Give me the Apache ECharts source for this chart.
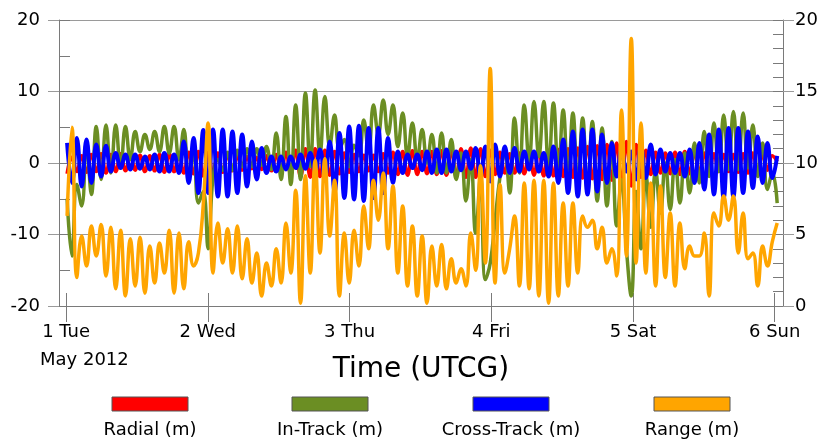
<!DOCTYPE html>
<html>
<head>
<meta charset="utf-8">
<script src="https://cdn.jsdelivr.net/npm/echarts@6/dist/echarts.min.js"></script>
<style>
html,body{margin:0;padding:0;background:#fff;}
#chart{width:826px;height:442px;}
</style>
</head>
<body>
<div id="chart"></div>
<script>
// Sample times: hours after 1 May 2012 00:00 UTCG (start + index * step)
const startHour = 0.17;
const stepHour = 0.8236;

const dayTickHours = [0, 24, 48, 72, 96, 120];
const dayTickLabels = ['1 Tue', '2 Wed', '3 Thu', '4 Fri', '5 Sat', '6 Sun'];
const leftTicks = [-20, -10, 0, 10, 20];
const rightTicks = [0, 5, 10, 15, 20];

const seriesNames = ['Radial (m)', 'In-Track (m)', 'Cross-Track (m)', 'Range (m)'];
const seriesColors = ['#ff0000', '#6b8e23', '#0000ff', '#ffa500'];

const radial = [
-1.5,0.8,-1.2,1.0,-1.3,1.2,-1.2,1.3,-1.4,1.2,
-1.2,1.3,-1.1,1.2,-1.0,1.1,-1.2,1.0,-1.1,1.2,
-1.3,1.3,-1.2,1.3,-1.4,1.5,-1.5,1.6,-1.8,1.5,
-1.6,1.4,-1.3,1.2,-1.1,1.0,-1.0,0.9,-0.8,0.8,
-0.9,1.0,-1.1,1.2,-1.3,1.5,-1.6,1.8,-1.9,2.0,
-2.0,2.0,-1.9,1.8,-1.7,1.6,-1.5,1.4,-1.3,1.2,
-1.2,1.1,-1.1,1.1,-1.2,1.3,-1.4,1.5,-1.6,1.6,
-1.7,1.7,-1.6,1.6,-1.5,1.6,-1.6,1.7,-1.7,1.8,
-1.9,2.0,-2.0,2.1,-2.0,2.0,-1.9,1.8,-1.6,1.5,
-1.4,1.3,-1.4,1.4,-1.5,1.6,-1.7,1.8,-1.8,1.8,
-1.8,1.9,-1.9,2.0,-2.0,2.1,-2.1,2.3,-2.2,2.4,
-2.3,2.6,-2.4,2.8,-2.6,3.0,-3.2,2.6,-2.0,1.8,
-1.6,1.5,-1.4,1.4,-1.5,1.5,-1.6,1.6,-1.5,1.5,
-1.4,1.4,-1.3,1.3,-1.2,1.2,-1.2,1.2,-1.3,1.3,
-1.4,1.4,-1.3,1.2,-1.0,1.0,0.2
];

const inTrack = [
-5.0,-13.0,-3.0,-6.0,3.0,-4.4,5.1,-2.3,5.3,-1.4,
5.3,-0.7,5.1,0.5,4.4,1.6,4.0,1.9,4.4,1.6,
5.1,1.4,5.1,0.5,4.7,-1.9,1.5,-5.6,-4.0,-12.0,
-2.0,0.5,-1.0,1.5,-1.0,1.8,-0.5,2.0,-0.5,2.0,
-0.3,2.3,-0.9,4.2,-2.3,6.5,-3.0,8.1,-2.3,9.8,
-0.5,10.2,1.2,9.3,2.3,6.7,1.9,3.3,-0.5,2.5,
1.0,6.0,1.4,8.1,4.0,8.8,4.0,8.1,2.3,7.0,
0.9,5.6,0.5,4.7,0.0,4.0,-1.4,4.2,-1.4,3.3,
-2.3,1.4,-5.3,0.5,-9.8,-2.0,-16.3,-14.0,-8.0,-2.0,
1.5,-4.2,6.3,-1.4,8.1,0.2,8.6,0.9,8.6,-0.5,
8.4,-1.4,7.4,-2.3,7.0,-3.3,6.3,-4.2,5.8,-5.3,
4.9,-6.0,3.0,-8.8,-2.3,-12.0,-18.6,-4.0,-12.0,-1.5,
-9.0,-1.0,-7.0,0.0,-6.5,0.5,-5.6,1.4,-4.2,2.8,
-2.8,4.4,-1.9,5.6,-1.2,6.7,-0.9,7.2,-0.9,7.0,
-0.7,5.3,-1.9,2.8,-3.7,-1.4,-5.6
];

const crossTrack = [
2.8,-2.8,3.5,-3.3,3.3,-2.8,2.6,-1.9,2.4,-1.2,
1.4,-0.7,1.2,-0.9,1.2,-0.8,0.9,-0.9,1.2,-1.2,
1.4,-1.2,1.2,-1.4,3.0,-2.8,3.5,-4.2,4.6,-4.2,
4.7,-4.7,4.7,-4.7,4.4,-4.2,4.0,-3.3,3.0,-2.3,
2.1,-1.4,0.9,-1.2,0.9,-0.9,0.9,-0.7,1.2,-0.8,
1.4,-1.2,1.9,-2.1,3.0,-4.0,4.2,-4.9,5.1,-5.1,
5.2,-5.3,4.9,-4.9,4.9,-4.2,3.5,-2.8,1.6,-1.4,
1.2,-0.7,1.2,-1.0,1.6,-1.4,1.9,-1.4,1.9,-1.2,
1.6,-1.0,1.6,-0.8,2.1,-1.9,2.3,-2.6,2.6,-1.9,
2.3,-1.4,2.1,-1.2,1.6,-0.9,1.6,-1.2,1.4,-1.9,
2.3,-2.8,3.3,-4.2,4.4,-4.7,4.7,-4.4,4.7,-4.0,
4.0,-2.8,2.8,-1.9,1.9,-1.2,1.6,-2.3,2.3,-2.1,
2.6,-1.6,1.9,-1.2,1.4,-1.4,1.4,-1.9,1.9,-2.8,
2.8,-3.7,4.0,-4.4,4.7,-4.9,4.9,-4.7,4.9,-4.2,
4.4,-3.5,3.7,-2.8,2.8,-2.1,1.0
];

const range = [
6.3,12.5,2.0,4.9,2.8,5.6,3.5,5.7,2.1,5.5,
1.2,5.3,0.7,4.7,1.4,4.8,0.9,4.2,1.6,4.4,
2.3,5.3,0.9,5.1,1.2,4.5,2.8,3.7,7.1,12.8,
2.3,5.8,3.0,5.4,2.3,5.6,1.9,4.7,1.6,3.7,
0.7,3.0,1.4,4.0,1.6,5.8,2.3,8.1,0.2,9.1,
2.3,10.2,3.7,10.3,4.9,8.8,0.7,5.1,1.6,5.3,
2.8,7.0,4.0,8.8,6.0,9.3,4.0,8.4,2.3,7.0,
1.4,5.6,0.7,4.9,0.2,4.2,1.4,4.3,1.2,3.3,
1.6,2.6,1.4,5.1,2.5,9.8,3.0,16.6,1.6,8.5,
2.3,4.0,6.3,1.4,8.6,1.2,8.8,0.7,8.8,0.2,
8.6,0.7,7.2,1.4,7.2,2.3,6.3,5.5,6.0,4.0,
5.5,3.0,4.0,2.1,13.7,3.5,18.7,3.0,12.8,2.3,
8.6,1.4,8.4,2.0,6.5,1.4,5.8,2.6,4.2,3.5,
3.5,5.1,0.7,6.5,5.6,7.7,6.0,7.7,3.7,6.5,
3.3,3.7,1.4,4.2,2.8,4.5,5.8
];

const FONT = 'DejaVu Sans';

function toPairs(values) {
  return values.map((v, i) => [startHour + i * stepHour, v]);
}

const seriesValues = [radial, inTrack, crossTrack, range];
const seriesAxis = [0, 0, 0, 2];
const seriesWidths = [3.5, 3.5, 4, 3.5];

const legendCenters = [150, 330, 511, 692];
const legendGraphics = [];
seriesNames.forEach((name, k) => {
  legendGraphics.push({
    type: 'rect', x: legendCenters[k] - 38, y: 397,
    shape: { x: 0, y: 0, width: 76, height: 14 },
    style: { fill: seriesColors[k], stroke: '#555', lineWidth: 1 }
  });
  legendGraphics.push({
    type: 'text', x: legendCenters[k], y: 421,
    style: { text: name, font: '18px "' + FONT + '"', fill: '#000', textAlign: 'center' }
  });
});

const chart = echarts.init(document.getElementById('chart'), null, { renderer: 'canvas' });

const gridColor = '#9a9a9a';
const axisColor = '#7a7a7a';

chart.setOption({
  animation: false,
  backgroundColor: '#ffffff',
  grid: { left: 59, right: 43, top: 20, bottom: 136, containLabel: false },
  xAxis: [
    {
      type: 'value', position: 'bottom', min: -1.2, max: 121.4,
      axisLine: { show: true, onZero: false, lineStyle: { color: axisColor, width: 1 } },
      splitLine: { show: false },
      axisTick: { show: true, customValues: dayTickHours, length: 16, lineStyle: { color: axisColor } },
      axisLabel: {
        customValues: dayTickHours, margin: 17, fontSize: 18, fontFamily: FONT, color: '#000',
        formatter: function (v) { return dayTickLabels[Math.round(v / 24)]; }
      },
      name: 'Time (UTCG)', nameLocation: 'middle', nameGap: 50,
      nameTextStyle: { fontSize: 28, fontFamily: FONT, color: '#000', verticalAlign: 'top' }
    },
    {
      type: 'value', position: 'bottom', min: -1.2, max: 121.4,
      axisLine: { show: false, onZero: false },
      splitLine: { show: false },
      axisTick: { show: true, inside: true, customValues: dayTickHours, length: 13, lineStyle: { color: axisColor } },
      axisLabel: { show: false }
    }
  ],
  yAxis: [
    {
      type: 'value', position: 'left', min: -20, max: 20, interval: 10,
      axisLine: { show: true, onZero: false, lineStyle: { color: axisColor } },
      axisTick: { show: true, length: 11, lineStyle: { color: gridColor } },
      splitLine: { show: true, lineStyle: { color: gridColor, width: 1 } },
      axisLabel: { margin: 19, fontSize: 18, fontFamily: FONT, color: '#000',
        customValues: leftTicks }
    },
    {
      type: 'value', position: 'left', min: -20, max: 20, interval: 5,
      axisLine: { show: false, onZero: false },
      axisTick: { show: true, inside: true, length: 11, lineStyle: { color: axisColor } },
      splitLine: { show: false },
      axisLabel: { show: false }
    },
    {
      type: 'value', position: 'right', min: 0, max: 20, interval: 5,
      axisLine: { show: true, onZero: false, lineStyle: { color: axisColor } },
      axisTick: { show: true, length: 11, lineStyle: { color: gridColor } },
      splitLine: { show: false },
      axisLabel: { margin: 12, fontSize: 18, fontFamily: FONT, color: '#000',
        customValues: rightTicks }
    },
    {
      type: 'value', position: 'right', min: 0, max: 20, interval: 1,
      axisLine: { show: false, onZero: false },
      axisTick: { show: true, inside: true, length: 10, lineStyle: { color: axisColor } },
      splitLine: { show: false },
      axisLabel: { show: false }
    }
  ],
  series: seriesNames.map((name, k) => ({
    name: name,
    type: 'line',
    xAxisIndex: 0,
    yAxisIndex: seriesAxis[k],
    data: toPairs(seriesValues[k]),
    showSymbol: false,
    smooth: 0.45,
    lineStyle: { color: seriesColors[k], width: seriesWidths[k] },
    itemStyle: { color: seriesColors[k] },
    z: 2 + k
  })),
  graphic: [
    {
      type: 'text', x: 40, y: 351,
      style: { text: 'May 2012', font: '18px "' + FONT + '"', fill: '#000' }
    }
  ].concat(legendGraphics)
});
</script>
</body>
</html>
